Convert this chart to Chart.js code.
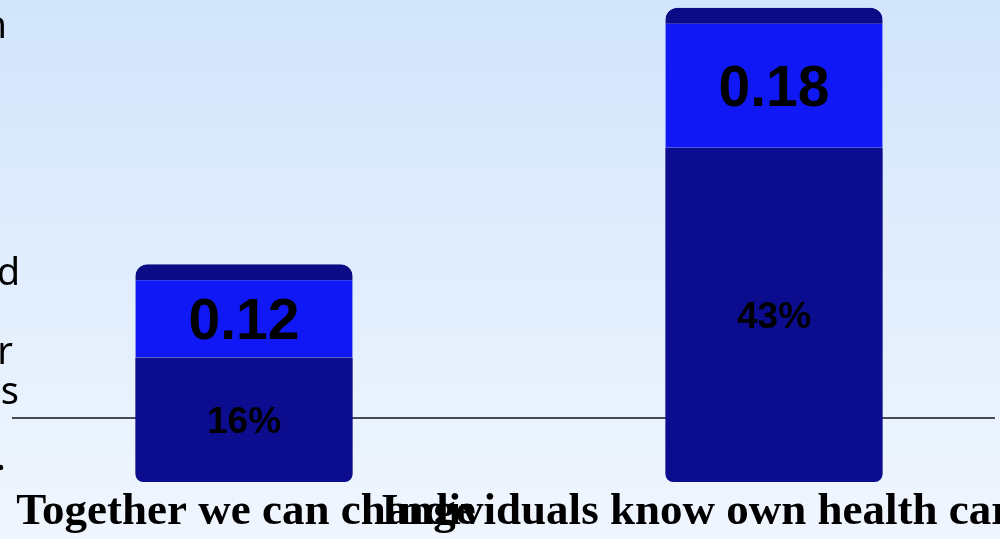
<!DOCTYPE html>
<html>
<head>
<meta charset="utf-8">
<script src="https://cdn.jsdelivr.net/npm/chart.js@4"></script>
<style>
  html, body { margin: 0; padding: 0; width: 1000px; height: 539px; overflow: hidden; }
  body { background: linear-gradient(#d2e5fc, #f0f6fe); }
  #wrap { position: absolute; left: -21px; top: 0; width: 1060px; height: 539px; }
</style>
</head>
<body>
<div id="wrap"><canvas id="chart1"></canvas></div>
<script>
var categories = ['Together we can change', 'Individuals know own health care']
var shareValues = [0.16, 0.43]
var shareLabels = ['16%', '43%']
var scoreValues = [0.12, 0.18]
var scoreLabels = ['0.12', '0.18']

var segmentLabels = [shareLabels, scoreLabels]
var segmentFonts = [37, 57]
var capHeight = 16

// line, value labels, category labels and the clipped text at the left edge
var decor = {
  id: 'decor',
  beforeDatasetsDraw: function (chart) {
    var c = chart.ctx
    c.save()
    c.strokeStyle = '#4a4a55'
    c.lineWidth = 2
    c.beginPath()
    c.moveTo(33, 418)
    c.lineTo(1016, 418)
    c.stroke()
    c.restore()
  },
  afterDatasetsDraw: function (chart) {
    var c = chart.ctx
    c.save()
    c.fillStyle = '#000'
    c.textAlign = 'center'
    c.textBaseline = 'alphabetic'
    chart.data.datasets.forEach(function (ds, di) {
      var size = segmentFonts[di]
      c.font = 'bold ' + size + 'px "Liberation Sans", Arial, sans-serif'
      chart.getDatasetMeta(di).data.forEach(function (bar, i) {
        var top = bar.y + (di === 1 ? capHeight : 0)
        var mid = (top + bar.base) / 2
        c.fillText(segmentLabels[di][i], bar.x, mid + size * 0.716 / 2)
      })
    })

    var xs = chart.scales.x
    c.font = 'bold 45px "Liberation Serif", "Times New Roman", serif'
    c.textAlign = 'center'
    c.fillText(categories[0], xs.getPixelForValue(0) + 2, 524)
    c.textAlign = 'left'
    c.fillText(categories[1], xs.getPixelForValue(1) - 393, 524)

    c.font = '38px "Noto Sans", sans-serif'
    c.textAlign = 'right'
    c.fillText('n', 28, 38)
    c.fillText('d', 41, 285)
    c.fillText('r', 34, 364)
    c.fillText('s', 40, 404)
    c.fillText('.', 27, 470)
    c.restore()
  }
}

var ctx1 = document.getElementById('chart1').getContext('2d')
var myChart1 = new Chart(ctx1, {
  type: 'bar',
  data: {
    labels: categories,
    datasets: [
      {
        label: 'Share',
        data: shareValues,
        backgroundColor: '#0c0c8e',
        borderWidth: 0,
        borderSkipped: false,
        borderRadius: { topLeft: 0, topRight: 0, bottomLeft: 8, bottomRight: 8 }
      },
      {
        label: 'Score',
        data: scoreValues,
        backgroundColor: '#1018f5',
        borderColor: '#0b0b86',
        borderWidth: { top: capHeight, left: 0, right: 0, bottom: 0 },
        borderSkipped: false,
        borderRadius: { topLeft: 12, topRight: 12, bottomLeft: 0, bottomRight: 0 }
      }
    ]
  },
  options: {
    responsive: true,
    maintainAspectRatio: false,
    animation: false,
    layout: { padding: { top: 0, bottom: 57, left: 0, right: 0 } },
    datasets: { bar: { categoryPercentage: 1, barPercentage: 0.41 } },
    plugins: { legend: { display: false }, tooltip: { enabled: false } },
    scales: {
      x: { display: false, stacked: true },
      y: { display: false, stacked: true, min: 0, max: 0.62 }
    }
  },
  plugins: [decor]
})
</script>
</body>
</html>
